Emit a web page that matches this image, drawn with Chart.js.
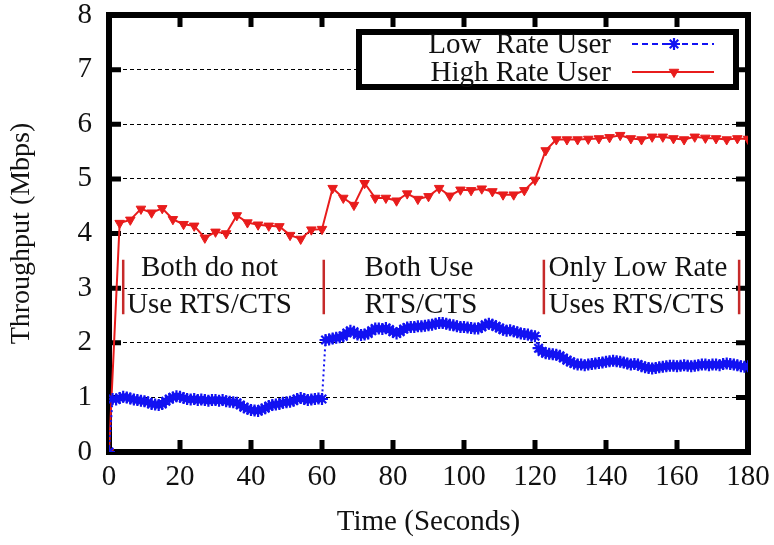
<!DOCTYPE html>
<html>
<head>
<meta charset="utf-8">
<script src="https://cdn.jsdelivr.net/npm/chart.js@4/dist/chart.umd.min.js"></script>
<style>
  html, body { margin: 0; padding: 0; background: #ffffff; }
  #wrap { width: 774px; height: 545px; }
</style>
</head>
<body>
<div id="wrap"><canvas id="c" width="774" height="545"></canvas></div>
<script>
// Throughput of two users over a 180 s run (three RTS/CTS phases)

// axis ticks
const xTicks = [0, 20, 40, 60, 80, 100, 120, 140, 160, 180];
const yTicks = [0, 1, 2, 3, 4, 5, 6, 7, 8];

// high rate user: one sample every 3 s
const highTimes = [0, 3, 6, 9, 12, 15, 18, 21, 24, 27, 30, 33, 36, 39, 42, 45, 48, 51, 54, 57, 60,
  63, 66, 69, 72, 75, 78, 81, 84, 87, 90, 93, 96, 99, 102, 105, 108, 111, 114, 117, 120,
  123, 126, 129, 132, 135, 138, 141, 144, 147, 150, 153, 156, 159, 162, 165, 168, 171, 174, 177, 180];
const highRate = [0, 4.19, 4.25, 4.45, 4.38, 4.46, 4.26, 4.17, 4.14, 3.92, 4.03, 4.0, 4.33, 4.2, 4.16, 4.14, 4.13, 3.97, 3.9, 4.07, 4.08,
  4.83, 4.65, 4.52, 4.92, 4.65, 4.65, 4.6, 4.73, 4.63, 4.68, 4.83, 4.69, 4.8, 4.79, 4.82, 4.77, 4.71, 4.71, 4.79, 4.98,
  5.52, 5.72, 5.72, 5.72, 5.73, 5.74, 5.76, 5.8, 5.74, 5.72, 5.77, 5.77, 5.74, 5.72, 5.77, 5.75, 5.74, 5.72, 5.74, 5.73];

// low rate user: one sample every second, t = 0 .. 180
const lowRate = [
  0, 0.97, 0.96, 0.99, 1.01, 1.0, 0.98, 0.96, 0.95, 0.94,
  0.93, 0.91, 0.88, 0.87, 0.86, 0.88, 0.93, 0.97, 1.0, 1.02,
  1.01, 0.99, 0.97, 0.96, 0.97, 0.95, 0.96, 0.95, 0.94, 0.95,
  0.95, 0.94, 0.95, 0.93, 0.92, 0.91, 0.9, 0.86, 0.82, 0.79,
  0.77, 0.76, 0.75, 0.78, 0.8, 0.84, 0.86, 0.87, 0.88, 0.9,
  0.91, 0.92, 0.94, 0.97, 0.99, 0.97, 0.95, 0.96, 0.97, 0.98,
  0.97, 2.05, 2.06, 2.08, 2.09, 2.1, 2.12, 2.18, 2.22, 2.2,
  2.15, 2.14, 2.15, 2.17, 2.22, 2.26, 2.26, 2.25, 2.27, 2.24,
  2.2, 2.17, 2.2, 2.25, 2.28, 2.29, 2.29, 2.3, 2.3, 2.31,
  2.32, 2.33, 2.35, 2.36, 2.36, 2.35, 2.33, 2.32, 2.3, 2.29,
  2.29, 2.28, 2.27, 2.26, 2.26, 2.29, 2.33, 2.35, 2.33, 2.3,
  2.27, 2.24, 2.22, 2.23, 2.21, 2.19, 2.17, 2.16, 2.15, 2.13,
  2.12, 1.9, 1.84, 1.81, 1.8, 1.79, 1.78, 1.76, 1.72, 1.68,
  1.65, 1.62, 1.6, 1.6, 1.59, 1.6, 1.61, 1.62, 1.63, 1.64,
  1.65, 1.66, 1.67, 1.66, 1.65, 1.64, 1.62, 1.6, 1.61, 1.6,
  1.57, 1.55, 1.54, 1.53, 1.54, 1.55, 1.56, 1.57, 1.58, 1.58,
  1.57, 1.58, 1.59, 1.58, 1.57, 1.58, 1.59, 1.6, 1.6, 1.59,
  1.6, 1.6, 1.59, 1.61, 1.62, 1.61, 1.6, 1.59, 1.57, 1.56,
  1.57];

const seriesNames = ['Low  Rate User', 'High Rate User'];

// phase captions and the boundary bars between them
const phaseText = [
  { lines: ['Both do not', 'Use RTS/CTS'], t: 28.3, align: 'center' },
  { lines: ['Both Use', 'RTS/CTS'], t: 72.0, align: 'left' },
  { lines: ['Only Low Rate', 'Uses RTS/CTS'], t: 123.8, align: 'left' }
];
const phaseBars = [4, 60.5, 122.5, 177.5];

const SERIF = '"Liberation Serif", "Times New Roman", serif';
const BLUE = '#1212f2';
const RED = '#e81c1c';

const lowPts = lowRate.map((v, i) => ({ x: i, y: v }));
const highPts = highRate.map((v, i) => ({ x: highTimes[i], y: v }));

const framePlugin = {
  id: 'frame',
  beforeDatasetsDraw(chart) {
    const { ctx, chartArea: a, scales: { x, y } } = chart;
    ctx.save();
    ctx.strokeStyle = '#000';
    ctx.lineWidth = 6;
    ctx.strokeRect(a.left, a.top, a.right - a.left, a.bottom - a.top);
    ctx.lineWidth = 5;
    ctx.beginPath();
    xTicks.forEach(v => {
      const px = x.getPixelForValue(v);
      ctx.moveTo(px, a.bottom); ctx.lineTo(px, a.bottom - 12);
      ctx.moveTo(px, a.top); ctx.lineTo(px, a.top + 12);
    });
    yTicks.forEach(v => {
      const py = y.getPixelForValue(v);
      ctx.moveTo(a.left, py); ctx.lineTo(a.left + 12, py);
      ctx.moveTo(a.right, py); ctx.lineTo(a.right - 12, py);
    });
    ctx.stroke();
    ctx.restore();
  }
};

const phasePlugin = {
  id: 'phases',
  afterDatasetsDraw(chart) {
    const { ctx, scales: { x, y } } = chart;
    ctx.save();
    ctx.strokeStyle = '#c62a2a';
    ctx.lineWidth = 2.5;
    ctx.beginPath();
    phaseBars.forEach(t => {
      const px = x.getPixelForValue(t);
      ctx.moveTo(px, y.getPixelForValue(3.52));
      ctx.lineTo(px, y.getPixelForValue(2.52));
    });
    ctx.stroke();
    ctx.fillStyle = '#111';
    ctx.font = '29px ' + SERIF;
    ctx.textBaseline = 'middle';
    const rows = [3.37, 2.69];
    phaseText.forEach(p => {
      ctx.textAlign = p.align;
      p.lines.forEach((s, i) => ctx.fillText(s, x.getPixelForValue(p.t), y.getPixelForValue(rows[i])));
    });
    ctx.restore();
  }
};

const legendPlugin = {
  id: 'boxLegend',
  afterDatasetsDraw(chart) {
    const { ctx } = chart;
    const ds = chart.data.datasets;
    const sampleDash = [[6, 4], []];
    ctx.save();
    ctx.fillStyle = '#fff';
    ctx.fillRect(359, 32, 377, 55);
    ctx.strokeStyle = '#000';
    ctx.lineWidth = 6;
    ctx.strokeRect(359, 32, 377, 55);
    ctx.font = '29px ' + SERIF;
    ctx.textAlign = 'right';
    ctx.textBaseline = 'middle';
    const rowY = [44, 72];
    ds.forEach((d, i) => {
      ctx.fillStyle = '#111';
      ctx.fillText(d.label, 611, rowY[i] + 1);
      ctx.save();
      ctx.strokeStyle = d.borderColor;
      ctx.lineWidth = d.borderWidth;
      ctx.setLineDash(sampleDash[i]);
      ctx.beginPath();
      ctx.moveTo(632, rowY[i]);
      ctx.lineTo(714, rowY[i]);
      ctx.stroke();
      ctx.restore();
      ctx.save();
      ctx.strokeStyle = d.pointBorderColor;
      ctx.fillStyle = d.pointBackgroundColor;
      ctx.lineWidth = d.pointBorderWidth;
      Chart.helpers.drawPoint(ctx, {
        pointStyle: d.pointStyle, radius: d.pointRadius,
        rotation: d.pointRotation || 0, borderWidth: d.pointBorderWidth
      }, 674, rowY[i]);
      ctx.restore();
    });
    ctx.restore();
  }
};

new Chart(document.getElementById('c'), {
  type: 'scatter',
  data: {
    datasets: [
      {
        label: seriesNames[0],
        data: lowPts,
        showLine: true,
        borderColor: BLUE,
        borderWidth: 2,
        borderDash: [2, 3],
        pointStyle: 'star',
        pointRadius: 6,
        pointBorderWidth: 2.2,
        pointBorderColor: BLUE,
        pointBackgroundColor: BLUE
      },
      {
        label: seriesNames[1],
        data: highPts,
        showLine: true,
        borderColor: RED,
        borderWidth: 2,
        pointStyle: 'triangle',
        pointRotation: 180,
        pointRadius: 5.5,
        pointBorderWidth: 1,
        pointBorderColor: RED,
        pointBackgroundColor: RED
      }
    ]
  },
  options: {
    responsive: false,
    animation: false,
    devicePixelRatio: 1,
    layout: { padding: { left: 0, right: 26, top: 15, bottom: 0 } },
    plugins: { legend: { display: false }, tooltip: { enabled: false } },
    scales: {
      x: {
        type: 'linear', min: 0, max: 180,
        afterBuildTicks: s => { s.ticks = xTicks.map(v => ({ value: v })); },
        afterFit: s => { s.height = 93; s.paddingLeft = 0; s.paddingRight = 0; },
        grid: { display: false, drawTicks: false },
        border: { display: false },
        ticks: { color: '#111', font: { family: SERIF, size: 29, lineHeight: 1.2 }, padding: 8, maxRotation: 0, autoSkip: false },
        title: { display: true, text: 'Time (Seconds)', color: '#111', font: { family: SERIF, size: 29, lineHeight: 1.2 }, padding: { top: 0, bottom: 5 } }
      },
      y: {
        min: 0, max: 8,
        afterBuildTicks: s => { s.ticks = yTicks.map(v => ({ value: v })); },
        afterFit: s => { s.width = 109; s.paddingTop = 0; s.paddingBottom = 0; },
        grid: { color: '#000', lineWidth: 1, drawTicks: false },
        border: { display: false, dash: [4, 3] },
        ticks: { color: '#111', font: { family: SERIF, size: 29, lineHeight: 1.2 }, padding: 17 },
        title: { display: true, text: 'Throughput (Mbps)', color: '#111', font: { family: SERIF, size: 28, lineHeight: 1.2 }, padding: { top: 5, bottom: 0 } }
      }
    }
  },
  plugins: [framePlugin, phasePlugin, legendPlugin]
});
</script>
</body>
</html>
